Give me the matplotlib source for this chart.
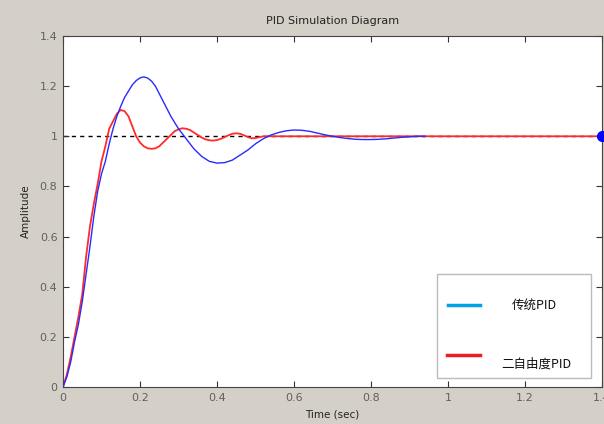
import matplotlib
matplotlib.use("Agg")
import matplotlib.pyplot as plt
from matplotlib.lines import Line2D
from matplotlib.patches import Rectangle

plt.rcParams['font.family'] = ['DejaVu Sans', 'Noto Sans CJK SC']

# ---- data ----
t_blue = [0, 0.01, 0.02, 0.03, 0.04, 0.05, 0.06, 0.07, 0.08, 0.09,
          0.10, 0.11, 0.12, 0.13, 0.14, 0.15, 0.16, 0.17, 0.18, 0.19,
          0.20, 0.21, 0.22, 0.23, 0.24, 0.25, 0.26,
          0.28, 0.30, 0.32, 0.34, 0.36, 0.38, 0.40, 0.42, 0.44, 0.46,
          0.48, 0.50, 0.52, 0.54, 0.56, 0.58, 0.60, 0.62, 0.64, 0.66,
          0.68, 0.70, 0.72, 0.74, 0.76, 0.78, 0.80, 0.82, 0.84, 0.86,
          0.88, 0.90, 0.92, 0.94]
y_blue = [0, 0.04, 0.10, 0.18, 0.25, 0.34, 0.45, 0.56, 0.68, 0.78,
          0.85, 0.90, 0.97, 1.03, 1.08, 1.12, 1.155, 1.18, 1.205, 1.222,
          1.233, 1.237, 1.232, 1.22, 1.20, 1.17, 1.14,
          1.08, 1.03, 0.99, 0.95, 0.92, 0.90, 0.893, 0.895, 0.905, 0.925,
          0.945, 0.97, 0.99, 1.005, 1.015, 1.022, 1.025, 1.024, 1.02, 1.013,
          1.006, 1.0, 0.995, 0.991, 0.988, 0.987, 0.987, 0.988, 0.99, 0.993,
          0.996, 0.998, 1.0, 1.0]

t_red = [0, 0.01, 0.02, 0.03, 0.04, 0.05, 0.06, 0.07, 0.08, 0.09,
         0.10, 0.11, 0.12, 0.13, 0.14, 0.15, 0.16, 0.17, 0.18, 0.19,
         0.20, 0.21, 0.22, 0.23, 0.24, 0.25, 0.26, 0.27, 0.28, 0.29,
         0.30, 0.31, 0.32, 0.33, 0.34, 0.35, 0.36, 0.37, 0.38, 0.39,
         0.40, 0.41, 0.42, 0.43, 0.44, 0.45, 0.46, 0.47, 0.48, 0.49,
         0.50, 0.52, 0.54, 1.4]
y_red = [0, 0.05, 0.12, 0.20, 0.28, 0.37, 0.52, 0.64, 0.73, 0.81,
         0.90, 0.96, 1.03, 1.06, 1.09, 1.105, 1.10, 1.08, 1.04, 1.00,
         0.975, 0.96, 0.952, 0.95, 0.952, 0.96, 0.975, 0.99, 1.005, 1.02,
         1.028, 1.032, 1.03, 1.025, 1.015, 1.005, 0.995, 0.988, 0.984, 0.983,
         0.985, 0.99, 0.997, 1.004, 1.01, 1.012, 1.01, 1.004, 0.997, 0.992,
         0.993, 1.0, 1.0, 1.0]

setpoint = 1.0
end_point_t = [1.4]
end_point_y = [1.0]

x_ticks = [0, 0.2, 0.4, 0.6, 0.8, 1.0, 1.2, 1.4]
x_tick_labels = ['0', '0.2', '0.4', '0.6', '0.8', '1', '1.2', '1.4']
y_ticks = [0, 0.2, 0.4, 0.6, 0.8, 1.0, 1.2, 1.4]
y_tick_labels = ['0', '0.2', '0.4', '0.6', '0.8', '1', '1.2', '1.4']

legend_labels = ['传统PID', '二自由度PID']
legend_colors = ['#00a2e8', '#ed1c24']

# ---- figure ----
fig = plt.figure(figsize=(6.04, 4.24), dpi=100, facecolor='#d4d0c8')
ax = fig.add_axes([63/604, 37/424, 539/604, 351/424])
ax.set_facecolor('white')

ax.axhline(setpoint, color='black', linestyle=(0, (3, 3)), linewidth=1.0, zorder=1)
ax.plot(t_red, y_red, color='#ff2a2a', linewidth=1.3, zorder=2)
ax.plot(t_blue, y_blue, color='#2a2aff', linewidth=1.0, zorder=3)
ax.plot(end_point_t, end_point_y, 'o', color='#0000ff', markersize=7, clip_on=False, zorder=5)

ax.set_xlim(0, 1.4)
ax.set_ylim(0, 1.4)
ax.set_xticks(x_ticks)
ax.set_xticklabels(x_tick_labels)
ax.set_yticks(y_ticks)
ax.set_yticklabels(y_tick_labels)
ax.tick_params(direction='in', length=4, width=0.8, top=True, right=True,
               labelsize=8, labelcolor='#606060', color='#333333', pad=4)
for s in ax.spines.values():
    s.set_color('#444444')
    s.set_linewidth(0.8)

ax.set_xlabel('Time (sec)', fontsize=7.5, color='#222222', labelpad=5)
ax.set_ylabel('Amplitude', fontsize=7.5, color='#222222', labelpad=6)
ax.set_title('PID Simulation Diagram', fontsize=8, color='#222222', pad=9)

# ---- legend (drawn manually to mimic layout) ----
lx0, ly0 = (437 - 63) / 539, (387 - 378) / 351
lw, lh = (591 - 437) / 539, (378 - 274) / 351
ax.add_patch(Rectangle((lx0, ly0), lw, lh, transform=ax.transAxes,
                       facecolor='white', edgecolor='#bbbbbb', linewidth=1.0, zorder=6))
ax.add_line(Line2D([(448 - 63) / 539, (480 - 63) / 539],
                   [(387 - 305) / 351] * 2, transform=ax.transAxes,
                   color=legend_colors[0], linewidth=2.5, zorder=7))
ax.add_line(Line2D([(447 - 63) / 539, (480 - 63) / 539],
                   [(387 - 355) / 351] * 2, transform=ax.transAxes,
                   color=legend_colors[1], linewidth=2.5, zorder=7))
ax.text((534 - 63) / 539, (387 - 305) / 351, legend_labels[0], transform=ax.transAxes,
        ha='center', va='center', fontsize=9, color='#111111',
        family=['Noto Sans CJK SC', 'DejaVu Sans'], zorder=8)
ax.text((536 - 63) / 539, (387 - 364) / 351, legend_labels[1], transform=ax.transAxes,
        ha='center', va='center', fontsize=9, color='#111111',
        family=['Noto Sans CJK SC', 'DejaVu Sans'], zorder=8)

fig.savefig('out.png', dpi=100, facecolor=fig.get_facecolor())
